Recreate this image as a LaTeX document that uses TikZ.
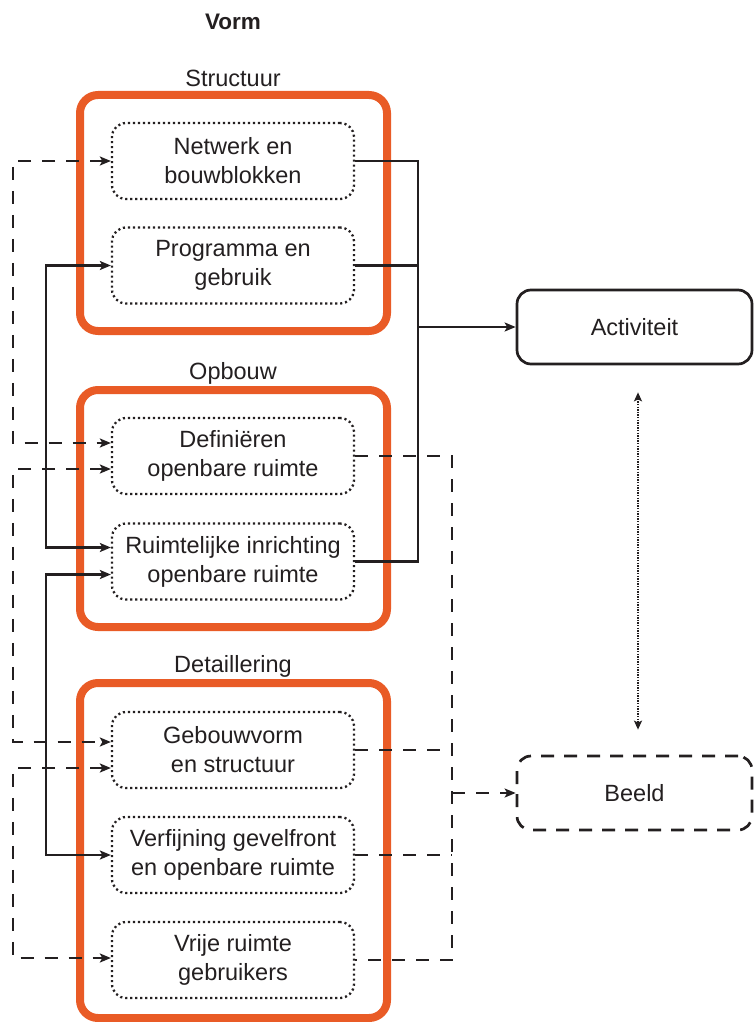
\documentclass[tikz,border=0pt]{standalone}
\usepackage{fontspec}
\setmainfont{Liberation Sans}
\usetikzlibrary{arrows.meta}
\definecolor{vormorange}{RGB}{233,91,38}
\definecolor{ink}{RGB}{35,31,32}
\begin{document}
\begin{tikzpicture}[x=1pt,y=-1pt,
    every node/.style={font=\fontsize{23.5}{29}\selectfont,text=ink},
    laag/.style={draw=vormorange,line width=8pt,rounded corners=18pt},
    deel/.style={draw=ink,line width=2.3pt,dash pattern=on 2.1pt off 2.9pt,
      rounded corners=14pt,minimum width=242pt,minimum height=76pt,
      align=center,inner sep=1pt},
    effect/.style={draw=ink,line width=2.7pt,rounded corners=14pt,
      minimum width=235pt,minimum height=74pt},
    lijn/.style={draw=ink,line width=2.5pt},
    streep/.style={draw=ink,line width=2.5pt,dash pattern=on 13pt off 11pt},
    pijl/.style={-{Stealth[length=11pt,width=9pt,inset=2.5pt]}},
    tweepijl/.style={{Stealth[length=11pt,width=9pt,inset=2.5pt]}-{Stealth[length=11pt,width=9pt,inset=2.5pt]}}]
  \useasboundingbox (0,0) rectangle (753,1022);

  \node[font=\fontsize{22.5}{27}\selectfont\bfseries] (vorm) at (233,22) {Vorm};

  \draw[laag] (80,95) rectangle (387,331);
  \draw[laag] (80,390) rectangle (387,627);
  \draw[laag] (80,683) rectangle (387,1018);
  \node (structuur) at (233,78) {Structuur};
  \node (opbouw) at (233,373) {Opbouw};
  \node (detaillering) at (233,666) {Detaillering};

  \node[deel] (netwerk) at (233,161) {Netwerk en\\bouwblokken};
  \node[deel] (programma) at (233,265.5) {Programma en\\gebruik};
  \node[deel] (definieren) at (233,456) {Definiëren\\openbare ruimte};
  \node[deel] (ruimtelijk) at (233,561.5) {Ruimtelijke inrichting\\openbare ruimte};
  \node[deel] (gebouwvorm) at (233,750) {Gebouwvorm\\en structuur};
  \node[deel] (verfijning) at (233,855) {Verfijning gevelfront\\en openbare ruimte};
  \node[deel] (vrije) at (233,960) {Vrije ruimte\\gebruikers};

  \node[effect] (activiteit) at (634.5,327) {Activiteit};
  \node[effect,dash pattern=on 13pt off 10pt] (beeld) at (634.5,793) {Beeld};

  \coordinate (samen) at (418,327);
  \coordinate (beeldsamen) at (452,793);

  \begin{scope}[lijn]
    \draw (netwerk.east) -- (netwerk.east -| samen) |- (ruimtelijk.east);
    \draw (programma.east) -- (programma.east -| samen);
    \draw[pijl] (samen) -- (activiteit.west);
    \draw[tweepijl] (programma.west) -- ++(-65,0) |- ([yshift=14pt]ruimtelijk.west);
    \draw[tweepijl] ([yshift=-13pt]ruimtelijk.west) -- ++(-65,0) |- (verfijning.west);
  \end{scope}

  \begin{scope}[streep]
    \draw (definieren.east) -- (definieren.east -| beeldsamen) |- (vrije.east);
    \draw (gebouwvorm.east) -- (gebouwvorm.east -| beeldsamen);
    \draw (verfijning.east) -- (verfijning.east -| beeldsamen);
    \draw[pijl] (beeldsamen) -- (beeld.west);
    \draw[tweepijl] (netwerk.west) -- ++(-98,0) |- ([yshift=13pt]definieren.west);
    \draw[tweepijl] ([yshift=-13pt]definieren.west) -- ++(-98,0) |- ([yshift=8pt]gebouwvorm.west);
    \draw[tweepijl] ([yshift=-18pt]gebouwvorm.west) -- ++(-98,0) |- ([yshift=2pt]vrije.west);
  \end{scope}

  \draw[draw=ink,line width=2.4pt,dash pattern=on 1.4pt off 1.2pt,
    {Stealth[length=9pt,width=8pt,inset=2pt]}-{Stealth[length=9pt,width=8pt,inset=2pt]}]
    ([xshift=3.5pt,yshift=-27pt]activiteit.south) -- ([xshift=3.5pt,yshift=25pt]beeld.north);
\end{tikzpicture}
\end{document}
